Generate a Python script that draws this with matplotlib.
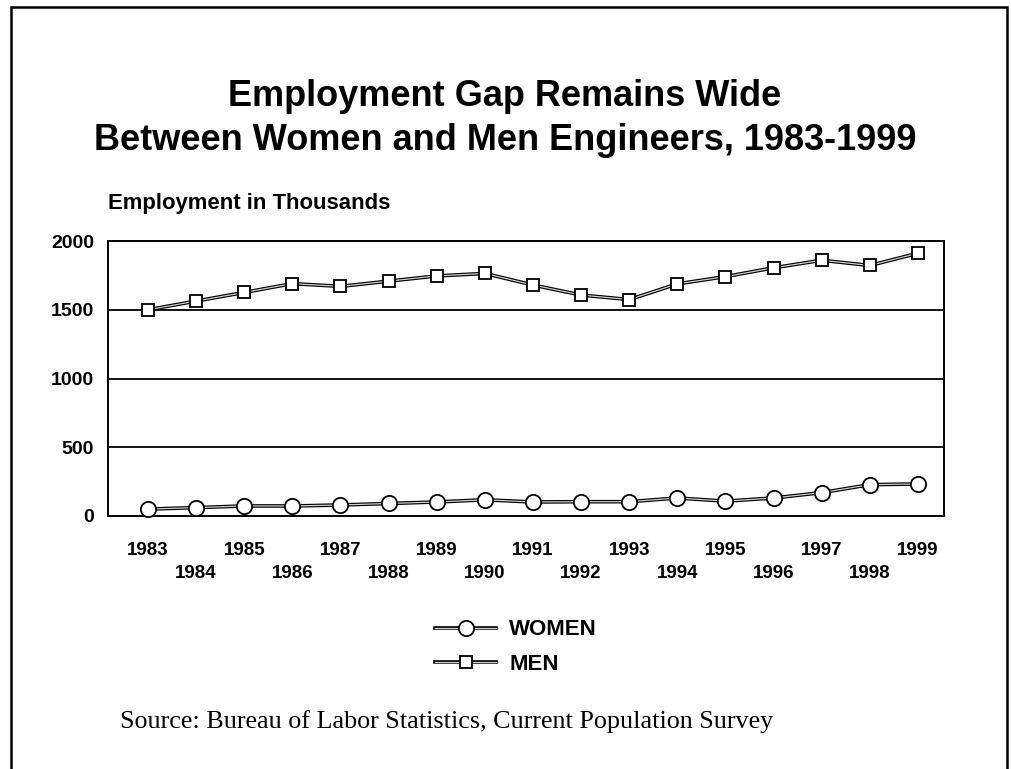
import matplotlib
matplotlib.use("Agg")
import matplotlib.pyplot as plt
from matplotlib.lines import Line2D
from matplotlib.legend_handler import HandlerTuple
from matplotlib.patches import Rectangle

years = list(range(1983, 2000))
women = [50, 61, 73, 73, 80, 91, 102, 118, 102, 104, 104, 131, 108, 131, 170, 228, 233]
men = [1500, 1563, 1626, 1690, 1670, 1708, 1746, 1764, 1680, 1607, 1574, 1688, 1741, 1805, 1860, 1822, 1911]
yticks = [0, 500, 1000, 1500, 2000]

W, H = 1011, 769
fig = plt.figure(figsize=(W / 100, H / 100), dpi=100)
sans = "Liberation Sans"
serif = "Liberation Serif"

ax = fig.add_axes([108 / W, 1 - 516 / H, (944 - 108) / W, (516 - 241) / H])

def double_line(x, y, marker, ms):
    ax.plot(x, y, color="black", lw=2.6, solid_capstyle="butt", zorder=3)
    ax.plot(x, y, color="#cfcfcf", lw=0.9, zorder=4)
    ax.plot(x, y, ls="none", marker=marker, ms=ms, mfc="white", mec="black", mew=1.3, zorder=5, clip_on=False)

double_line(years, women, "o", 11)
double_line(years, men, "s", 8.5)

ax.set_xlim(1982.17, 1999.54)
ax.set_ylim(0, 2000)
ax.set_yticks(yticks)
ax.set_yticklabels([str(v) for v in yticks], fontfamily=sans, fontweight="bold", fontsize=14)
for v in yticks[1:-1]:
    ax.axhline(v, color="black", lw=1.3, zorder=1)

odd = [y for y in years if y % 2 == 1]
even = [y for y in years if y % 2 == 0]
ax.set_xticks(odd)
ax.set_xticklabels([str(y) for y in odd], fontfamily=sans, fontweight="bold", fontsize=13.5)
ax.set_xticks(even, minor=True)
ax.set_xticklabels([str(y) for y in even], minor=True, fontfamily=sans, fontweight="bold", fontsize=13.5)
ax.tick_params(axis="x", which="major", length=0, pad=19)
ax.tick_params(axis="x", which="minor", length=0, pad=35)
ax.tick_params(axis="y", length=0, pad=10)
for s in ax.spines.values():
    s.set_linewidth(1.4)
    s.set_color("black")

fig.text(505 / W, 1 - 97 / H, "Employment Gap Remains Wide", ha="center", va="center",
         fontfamily=sans, fontweight="bold", fontsize=26)
fig.text(505 / W, 1 - 140 / H, "Between Women and Men Engineers, 1983-1999", ha="center", va="center",
         fontfamily=sans, fontweight="bold", fontsize=26)
fig.text(108 / W, 1 - 204 / H, "Employment in Thousands", ha="left", va="center",
         fontfamily=sans, fontweight="bold", fontsize=15.9)
fig.text(120 / W, 1 - 722 / H, "Source: Bureau of Labor Statistics, Current Population Survey",
         ha="left", va="center", fontfamily=serif, fontsize=18.8)

def handle(marker, ms):
    return (Line2D([], [], color="black", lw=2.6),
            Line2D([], [], color="#cfcfcf", lw=0.9),
            Line2D([], [], ls="none", marker=marker, ms=ms, mfc="white", mec="black", mew=1.3))

leg = fig.legend([handle("o", 11), handle("s", 8.5)], ["WOMEN", "MEN"],
                 handler_map={tuple: HandlerTuple(ndivide=1, pad=0)},
                 loc="center left", bbox_to_anchor=(415 / W, 1 - 647 / H), frameon=False,
                 prop={"family": sans, "weight": "bold", "size": 16},
                 handlelength=2.75, handletextpad=0.6, labelspacing=0.6)

fig.patches.append(Rectangle((11 / W, -0.05), (1007 - 11) / W, 1.05 - 7 / H,
                             transform=fig.transFigure, fill=False, ec="black", lw=1.8))

fig.savefig("out.png", dpi=100)
